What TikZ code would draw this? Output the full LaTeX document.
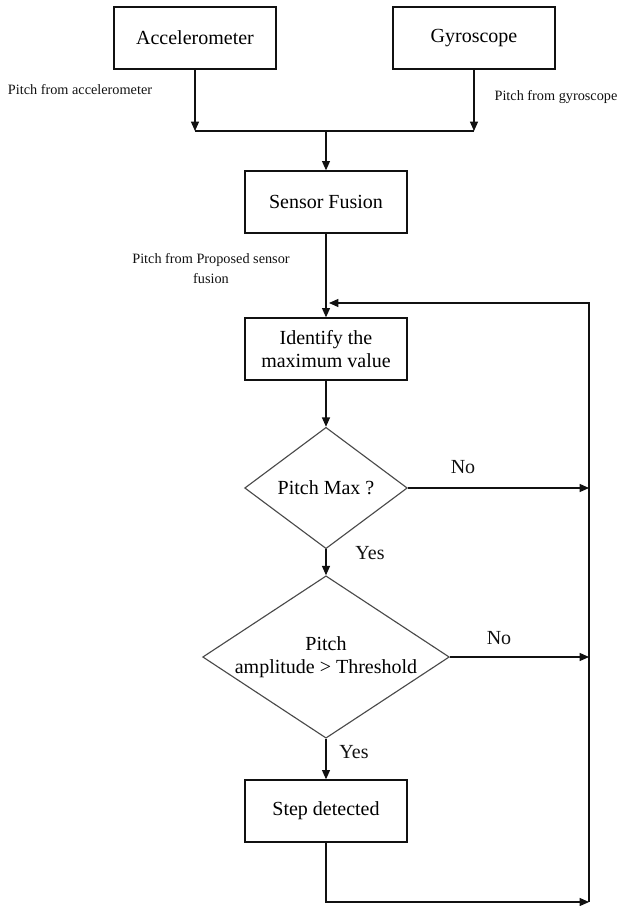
\documentclass[tikz,border=0pt]{standalone}
\usepackage{fontspec}
\setmainfont{Liberation Serif}
\usepackage{tikz}
\usetikzlibrary{arrows.meta,shapes.geometric}
\definecolor{ink}{HTML}{111111}
\definecolor{rim}{HTML}{4A4A4A}
\tikzset{
  flowBox/.style={draw=ink, line width=1pt, minimum width=121.5pt, minimum height=46.5pt, inner sep=2pt, align=center, font=\fontsize{15}{17}\selectfont},
  flowDiamond/.style={diamond, draw=rim, line width=0.85pt, inner sep=0pt, aspect=1.5, align=center, font=\fontsize{15}{17}\selectfont},
  flowArrow/.style={-{Triangle[length=7pt,width=6pt]}, draw=ink, line width=0.9pt},
  flowLine/.style={draw=ink, line width=0.9pt},
  edgeLab/.style={text=ink, font=\fontsize{15}{17}\selectfont},
  sideLab/.style={text=ink, align=center, font=\fontsize{10.7}{15}\selectfont}
}

\begin{document}
\begin{tikzpicture}[x=0.75pt, y=-0.75pt]
  \useasboundingbox (0,0) rectangle (631,906);

  % blocks
  \node[flowBox] (acc) at (195,38) {Accelerometer};
  \node[flowBox] (gyro) at (474,38) {Gyroscope};
  \node[flowBox] (fusion) at (326,202) {Sensor Fusion};
  \node[flowBox] (ident) at (326,349) {Identify the\\maximum value};
  \node[flowDiamond, minimum width=122pt, minimum height=91pt] (isMax) at (326,488) {Pitch Max ?};
  \node[flowDiamond, minimum width=185pt, minimum height=121pt] (isHigh) at (326,657) {Pitch\\amplitude > Threshold};
  \node[flowBox] (stepDet) at (326,811) {Step detected};

  % junction points
  \coordinate (joinL) at (195,131);
  \coordinate (joinR) at (474,131);
  \coordinate (joinC) at (326,131);
  \coordinate (backTop) at (589,303);
  \coordinate (backIn) at (329,303);
  \coordinate (noMax) at (589,488);
  \coordinate (noHigh) at (589,657);
  \coordinate (stepLow) at (326,902);
  \coordinate (backLow) at (589,902);

  % sensors into fusion
  \draw[flowArrow] (acc) -- (joinL);
  \draw[flowArrow] (gyro) -- (joinR);
  \draw[flowLine] (joinL) -- (joinR);
  \draw[flowArrow] (joinC) -- (fusion);
  \node[sideLab] (accLab) at (80,90) {Pitch from accelerometer};
  \node[sideLab] (gyroLab) at (556,97) {Pitch from gyroscope};

  % main chain
  \draw[flowArrow] (fusion) -- (ident);
  \node[sideLab] (fusionLab) at (211,269) {Pitch from Proposed sensor\\fusion};
  \draw[flowArrow] (ident) -- (isMax);
  \draw[flowArrow] (isMax) -- (isHigh);
  \draw[flowArrow] (isHigh) -- (stepDet);
  \node[edgeLab] (yesMax) at (370,553) {Yes};
  \node[edgeLab] (yesHigh) at (354,752) {Yes};

  % no branches and loop back
  \draw[flowArrow] (isMax.east) -- (noMax);
  \draw[flowArrow] (isHigh.east) -- (noHigh);
  \node[edgeLab] (noMaxLab) at (463,467) {No};
  \node[edgeLab] (noHighLab) at (499,638) {No};
  \draw[flowArrow] (stepDet) -- (stepLow) -- (backLow);
  \draw[flowArrow] (backLow) -- (backTop) -- (backIn);
\end{tikzpicture}
\end{document}
